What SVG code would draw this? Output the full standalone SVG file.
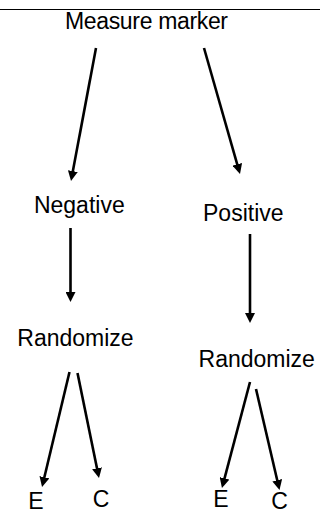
<svg xmlns="http://www.w3.org/2000/svg" width="320" height="511" viewBox="0 0 320 511">
<style>
.t{font-family:"Liberation Sans",Arial,sans-serif;font-size:23px;fill:#000;text-anchor:middle}
.c line{stroke:#000;stroke-width:2.6;marker-end:url(#ah)}
</style>
<defs>
<marker id="ah" markerUnits="userSpaceOnUse" markerWidth="10" markerHeight="10" refX="2" refY="5" orient="auto">
<path d="M0,0 L10,5 L0,10 z" fill="#000"/>
</marker>
</defs>
<rect width="320" height="511" fill="#fff"/>
<line x1="0" y1="9.5" x2="320" y2="9.5" stroke="#000" stroke-width="1"/>
<g id="measure"><text class="t" x="146.5" y="29" textLength="163">Measure marker</text></g>
<g id="negative"><text class="t" x="79.3" y="213">Negative</text></g>
<g id="positive"><text class="t" x="243.3" y="221">Positive</text></g>
<g id="randomize-neg"><text class="t" x="75.5" y="346">Randomize</text></g>
<g id="randomize-pos"><text class="t" x="256.7" y="366.5">Randomize</text></g>
<g id="e-neg"><text class="t" x="36" y="508.5">E</text></g>
<g id="c-neg"><text class="t" x="101" y="506.5">C</text></g>
<g id="e-pos"><text class="t" x="221" y="506.5">E</text></g>
<g id="c-pos"><text class="t" x="279.5" y="509">C</text></g>
<g id="connectors" class="c">
<line x1="96" y1="48" x2="72.5" y2="173.1"/>
<line x1="204" y1="48" x2="237.8" y2="166.3"/>
<line x1="70.5" y1="228" x2="70.5" y2="294"/>
<line x1="250" y1="234" x2="250" y2="315"/>
<line x1="69.5" y1="372" x2="43.9" y2="479.2"/>
<line x1="77.5" y1="373" x2="97.4" y2="470.2"/>
<line x1="250" y1="382" x2="224" y2="480.3"/>
<line x1="256" y1="389" x2="277.7" y2="482.2"/>
</g>
</svg>
